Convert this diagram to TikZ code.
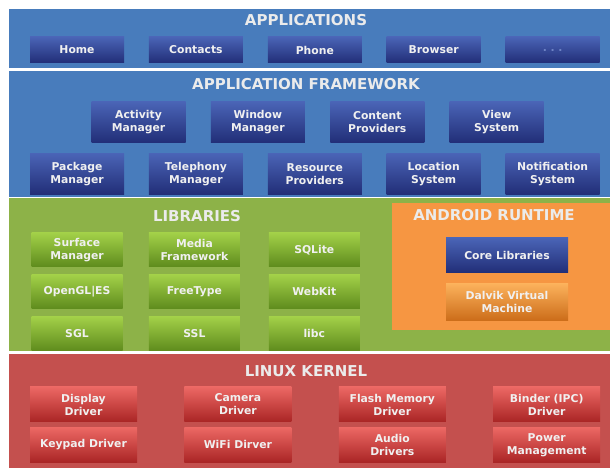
\documentclass[tikz,border=0pt]{standalone}
\usepackage{fontspec}
\setmainfont{DejaVu Sans}
\usetikzlibrary{positioning}

\definecolor{appblue}{RGB}{72,124,188}
\definecolor{navy}{RGB}{26,36,108}
\definecolor{navylite}{RGB}{74,100,182}
\definecolor{libgreen}{RGB}{141,178,72}
\definecolor{tilegreen}{RGB}{118,174,36}
\definecolor{tilegreenlite}{RGB}{162,208,72}
\definecolor{rtorange}{RGB}{246,150,66}
\definecolor{tileorange}{RGB}{240,128,30}
\definecolor{tileorangelite}{RGB}{252,178,92}
\definecolor{kernred}{RGB}{196,80,78}
\definecolor{tilered}{RGB}{212,46,46}
\definecolor{tileredlite}{RGB}{236,104,100}

\tikzset{
  layer/.style={font=\bfseries\fontsize{15}{18}\selectfont, text=white!92!black},
  tile/.style={font=\bfseries\fontsize{10.8}{13}\selectfont, text=white!94!black,
    align=center, inner sep=0pt},
  bluetile/.style={tile, minimum width=94pt, top color=navylite,
    middle color=navy, bottom color=navy!85!navylite},
  greentile/.style={tile, minimum width=91pt, minimum height=34pt,
    top color=tilegreenlite, middle color=tilegreen, bottom color=tilegreen!80!black},
  redtile/.style={tile, minimum width=107pt, minimum height=35pt,
    top color=tileredlite, middle color=tilered, bottom color=tilered!80!black}
}

\begin{document}
\begin{tikzpicture}
  [x=1pt, y=1pt]
  \useasboundingbox (0,0) rectangle (612,473);

  % layers
  \fill[appblue]  (9,405) rectangle (610,464);
  \fill[appblue]  (9,276) rectangle (610,402);
  \fill[libgreen] (9,122) rectangle (610,275);
  \fill[rtorange] (392,143) rectangle (610,270);
  \fill[kernred]  (9,5)   rectangle (610,119);

  \node[layer] (applications) at (306,453)   {APPLICATIONS};
  \node[layer] (framework)    at (306,389)   {APPLICATION FRAMEWORK};
  \node[layer] (libraries)    at (197,257)   {LIBRARIES};
  \node[layer] (runtime)      at (494,258)   {ANDROID RUNTIME};
  \node[layer] (kernel)       at (306,102)   {LINUX KERNEL};

  % applications
  \node[bluetile, minimum height=26pt] (home)     at (77,423)                {Home};
  \node[bluetile, minimum height=26pt] (contacts) [right=24.5pt of home]     {Contacts};
  \node[bluetile, minimum height=26pt] (phone)    [right=24.5pt of contacts] {Phone};
  \node[bluetile, minimum height=26pt] (browser)  [right=24.5pt of phone]    {Browser};
  \node[bluetile, minimum height=26pt, text=navylite!80!white]
                                       (more)     [right=24.5pt of browser]  {.\,\,.\,\,.};

  % application framework
  \node[bluetile, minimum height=41pt] (activity) at (138.5,350.5)           {Activity\\Manager};
  \node[bluetile, minimum height=41pt] (window)   [right=25pt of activity]   {Window\\Manager};
  \node[bluetile, minimum height=41pt] (content)  [right=25pt of window]     {Content\\Providers};
  \node[bluetile, minimum height=41pt] (view)     [right=25pt of content]    {View\\System};

  \node[bluetile, minimum height=41pt] (package)   at (77,299)                {Package\\Manager};
  \node[bluetile, minimum height=41pt] (telephony) [right=24.5pt of package]  {Telephony\\Manager};
  \node[bluetile, minimum height=41pt] (resource)  [right=24.5pt of telephony]{Resource\\Providers};
  \node[bluetile, minimum height=41pt] (location)  [right=24.5pt of resource] {Location\\System};
  \node[bluetile, minimum height=41pt] (notify)    [right=24.5pt of location] {Notification\\System};

  % libraries
  \node[greentile] (surface)  at (77,223)                  {Surface\\Manager};
  \node[greentile] (media)    [right=26pt of surface]      {Media\\Framework};
  \node[greentile] (sqlite)   [right=28.5pt of media]      {SQLite};
  \node[greentile] (opengl)   [below=7.5pt of surface]     {OpenGL|ES};
  \node[greentile] (freetype) [below=7.5pt of media]       {FreeType};
  \node[greentile] (webkit)   [below=7.5pt of sqlite]      {WebKit};
  \node[greentile] (sgl)      [below=7.5pt of opengl]      {SGL};
  \node[greentile] (ssl)      [below=7.5pt of freetype]    {SSL};
  \node[greentile] (libc)     [below=7.5pt of webkit]      {libc};

  % android runtime
  \node[bluetile, minimum width=122pt, minimum height=35pt] (core) at (507,217.5) {Core Libraries};
  \node[tile, minimum width=122pt, minimum height=37pt, top color=tileorangelite,
    middle color=tileorange, bottom color=tileorange!85!black]
    (dalvik) [below=10pt of core] {Dalvik Virtual\\Machine};

  % linux kernel
  \node[redtile] (display) at (83.5,68.5)           {Display\\Driver};
  \node[redtile] (camera)  [right=47pt of display]  {Camera\\Driver};
  \node[redtile] (flash)   [right=47pt of camera]   {Flash Memory\\Driver};
  \node[redtile] (binder)  [right=47pt of flash]    {Binder (IPC)\\Driver};
  \node[redtile] (keypad)  [below=5pt of display]   {Keypad Driver};
  \node[redtile] (wifi)    [below=5pt of camera]    {WiFi Dirver};
  \node[redtile] (audio)   [below=5pt of flash]     {Audio\\Drivers};
  \node[redtile] (power)   [below=5pt of binder]    {Power\\Management};
\end{tikzpicture}
\end{document}
